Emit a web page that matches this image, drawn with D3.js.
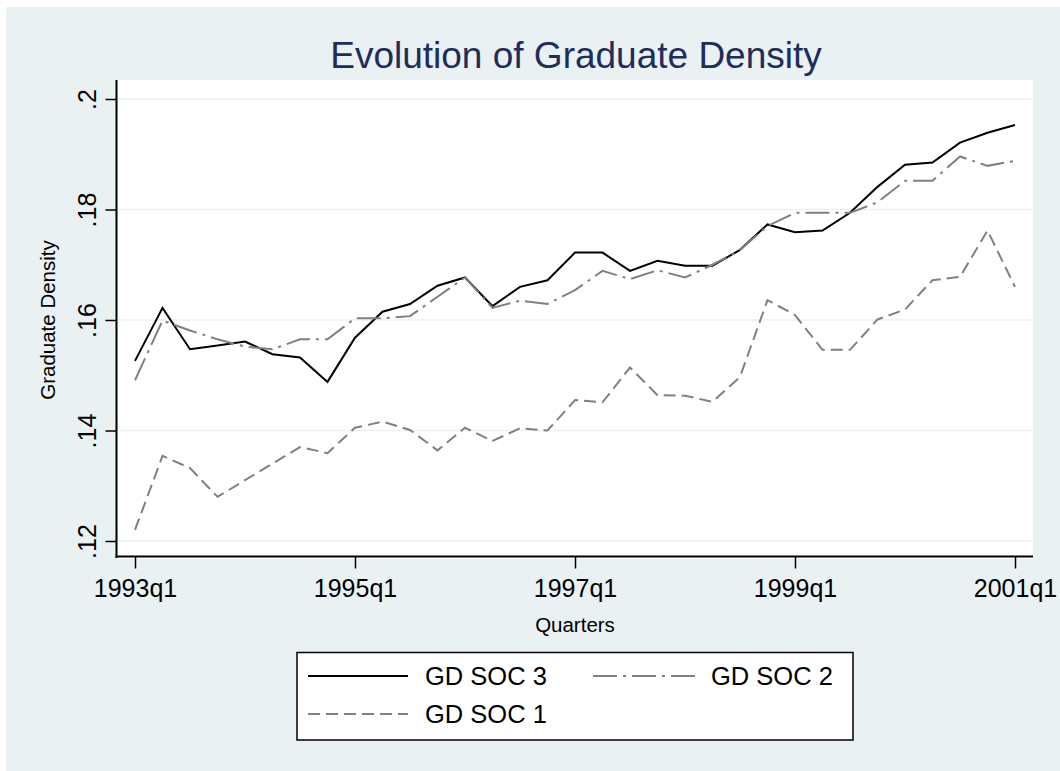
<!DOCTYPE html>
<html>
<head>
<meta charset="utf-8">
<script src="https://d3js.org/d3.v7.min.js"></script>
<style>
  html, body { margin: 0; padding: 0; background: #ffffff; }
  svg { display: block; font-family: "Liberation Sans", Arial, sans-serif; }
</style>
</head>
<body>
<svg id="chart" width="1060" height="771"></svg>
<script>
// ---------- data ----------
const quarters = [
  "1993q1","1993q2","1993q3","1993q4","1994q1","1994q2","1994q3","1994q4",
  "1995q1","1995q2","1995q3","1995q4","1996q1","1996q2","1996q3","1996q4",
  "1997q1","1997q2","1997q3","1997q4","1998q1","1998q2","1998q3","1998q4",
  "1999q1","1999q2","1999q3","1999q4","2000q1","2000q2","2000q3","2000q4",
  "2001q1"
];
const gdSoc3 = [0.1526, 0.1622, 0.1547, 0.1554, 0.1561, 0.1538, 0.1532, 0.1488,
  0.1568, 0.1615, 0.1629, 0.1662, 0.1677, 0.1625, 0.1660, 0.1672,
  0.1722, 0.1722, 0.1689, 0.1707, 0.1698, 0.1698, 0.1727, 0.1773,
  0.1759, 0.1762, 0.1794, 0.1841, 0.1881, 0.1885, 0.1921, 0.1939, 0.1953];
const gdSoc2 = [0.1491, 0.1599, 0.1581, 0.1565, 0.1552, 0.1547, 0.1565, 0.1565,
  0.1603, 0.1603, 0.1607, 0.1642, 0.1677, 0.1622, 0.1635, 0.1629,
  0.1654, 0.1689, 0.1674, 0.1690, 0.1677, 0.1700, 0.1727, 0.1770,
  0.1794, 0.1794, 0.1794, 0.1813, 0.1852, 0.1852, 0.1896, 0.1879, 0.1888];
const gdSoc1 = [0.1220, 0.1354, 0.1332, 0.1280, 0.1310, 0.1340, 0.1370, 0.1359,
  0.1405, 0.1416, 0.1401, 0.1364, 0.1405, 0.1381, 0.1404, 0.1400,
  0.1455, 0.1451, 0.1514, 0.1464, 0.1463, 0.1452, 0.1497, 0.1636,
  0.1609, 0.1546, 0.1546, 0.1601, 0.1619, 0.1672, 0.1678, 0.1762, 0.1660];
const xTickLabels = ["1993q1","1995q1","1997q1","1999q1","2001q1"];
const yTicks = [0.12, 0.14, 0.16, 0.18, 0.20];
const yTickLabels = [".12", ".14", ".16", ".18", ".2"];
const seriesNames = ["GD SOC 3", "GD SOC 2", "GD SOC 1"];

// ---------- styles ----------
const bg = "#EAF1F3";
const gridColor = "#EAF1F3";
const styles = [
  { color: "#000000", dash: null, width: 2 },
  { color: "#808080", dash: "24,6,3,6", width: 2 },
  { color: "#808080", dash: "12,6", width: 2 }
];
const seriesData = [gdSoc3, gdSoc2, gdSoc1];

const svg = d3.select("#chart");

// outer region
svg.append("rect").attr("x", 6).attr("y", 7).attr("width", 1054).attr("height", 764).attr("fill", bg);

// plot region
const plot = { left: 117, top: 80, right: 1033, bottom: 559 };
svg.append("rect").attr("x", plot.left).attr("y", plot.top)
  .attr("width", plot.right - plot.left).attr("height", plot.bottom - plot.top)
  .attr("fill", "#ffffff");

const x = d3.scalePoint().domain(quarters).range([135, 1015]);
const y = d3.scaleLinear().domain([0.12, 0.20]).range([541, 99]);

// gridlines
svg.append("g").selectAll("line").data(yTicks).join("line")
  .attr("x1", plot.left).attr("x2", plot.right)
  .attr("y1", d => y(d)).attr("y2", d => y(d))
  .attr("stroke", gridColor).attr("stroke-width", 1.5);

// lines
const lineGen = vals => d3.line().x((d, i) => x(quarters[i])).y(d => y(d))(vals);
seriesData.forEach((vals, k) => {
  svg.append("path").attr("d", lineGen(vals))
    .attr("fill", "none")
    .attr("stroke", styles[k].color)
    .attr("stroke-width", styles[k].width)
    .attr("stroke-dasharray", styles[k].dash)
    .attr("stroke-linejoin", "miter");
});

// y axis
const yAxis = d3.axisLeft(y).tickValues(yTicks)
  .tickFormat((d, i) => yTickLabels[i]).tickSize(11).tickSizeOuter(0);
const gy = svg.append("g").attr("transform", `translate(${plot.left - 0.5},0)`).call(yAxis);
gy.select(".domain").remove();
gy.append("line").attr("x1", 0).attr("x2", 0).attr("y1", plot.top).attr("y2", 558)
  .attr("stroke", "#000").attr("stroke-width", 2);
gy.selectAll(".tick line").attr("stroke", "#000").attr("stroke-width", 1.5);
gy.selectAll(".tick text")
  .attr("x", 0).attr("y", 0).attr("dy", null)
  .attr("transform", "translate(-21,0) rotate(-90)")
  .attr("text-anchor", "middle")
  .attr("dominant-baseline", "auto")
  .attr("fill", "#000")
  .style("font-size", "25px")
  .style("font-family", "'Liberation Sans', Arial, sans-serif");

// x axis
const xAxis = d3.axisBottom(x).tickValues(xTickLabels).tickSize(12).tickSizeOuter(0);
const gx = svg.append("g").attr("transform", `translate(0,${556.5})`).call(xAxis);
gx.select(".domain").remove();
gx.append("line").attr("x1", plot.left - 1.5).attr("x2", plot.right).attr("y1", 0).attr("y2", 0)
  .attr("stroke", "#000").attr("stroke-width", 2);
gx.selectAll(".tick line").attr("stroke", "#000").attr("stroke-width", 1.5);
gx.selectAll(".tick text")
  .attr("y", 40).attr("dy", null)
  .attr("fill", "#000")
  .style("font-size", "25px")
  .style("font-family", "'Liberation Sans', Arial, sans-serif");

// axis titles
svg.append("text").attr("x", 575).attr("y", 632).attr("text-anchor", "middle")
  .style("font-size", "20.5px").attr("fill", "#000").text("Quarters");
svg.append("text").attr("transform", "translate(55,320) rotate(-90)")
  .attr("text-anchor", "middle").style("font-size", "20.5px").attr("fill", "#000")
  .text("Graduate Density");

// title
svg.append("text").attr("x", 576).attr("y", 68).attr("text-anchor", "middle")
  .style("font-size", "37px").attr("fill", "#1E2D59").text("Evolution of Graduate Density");

// legend
const lg = svg.append("g");
lg.append("rect").attr("x", 297).attr("y", 652.5).attr("width", 556).attr("height", 87.5)
  .attr("fill", "#fff").attr("stroke", "#000").attr("stroke-width", 1.5);
const legendPos = [
  { x1: 308, x2: 408, tx: 425, y: 676 },
  { x1: 593, x2: 695, tx: 711, y: 676 },
  { x1: 308, x2: 408, tx: 425, y: 714 }
];
seriesNames.forEach((name, k) => {
  const p = legendPos[k];
  lg.append("line").attr("x1", p.x1).attr("x2", p.x2).attr("y1", p.y).attr("y2", p.y)
    .attr("stroke", styles[k].color).attr("stroke-width", styles[k].width)
    .attr("stroke-dasharray", styles[k].dash);
  lg.append("text").attr("x", p.tx).attr("y", p.y + 9)
    .style("font-size", "25.5px").attr("fill", "#000").text(name);
});
</script>
</body>
</html>
